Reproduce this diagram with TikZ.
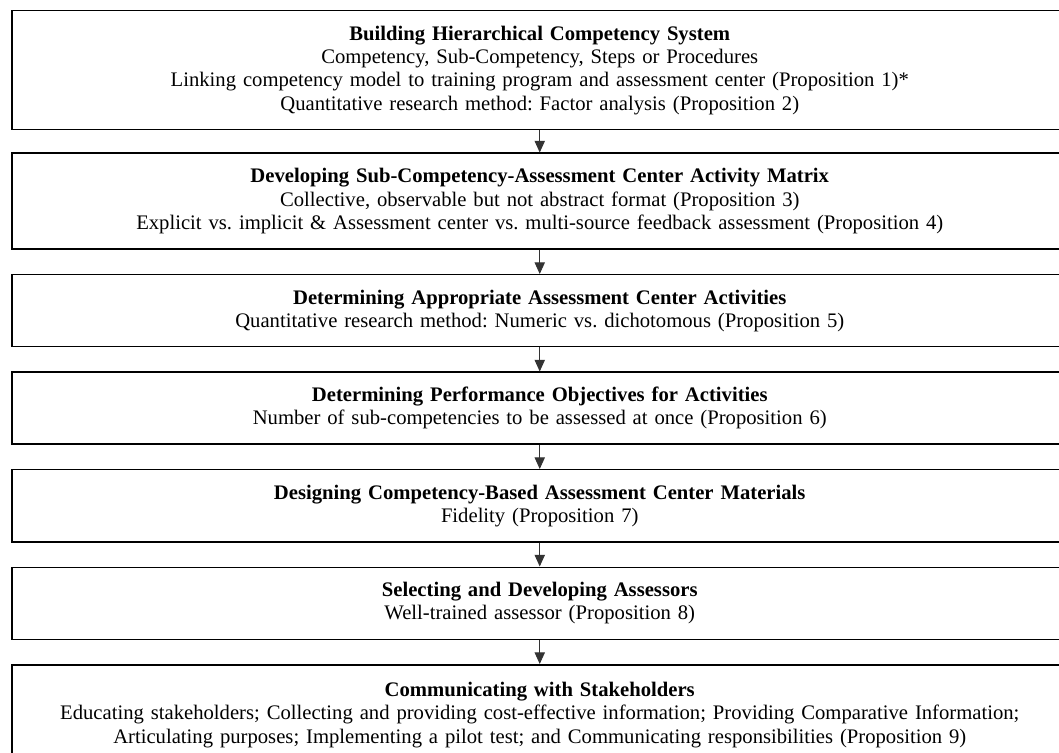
\documentclass[tikz,border=0pt]{standalone}
\usepackage{fontspec}
\setmainfont{Liberation Serif}
\usetikzlibrary{arrows.meta,positioning}
\frenchspacing

\begin{document}
\begin{tikzpicture}[node distance=14.4pt,
    stepbox/.style={draw,line width=0.9pt,text width=625.6pt,inner xsep=4pt,inner ysep=2pt,
      align=center,font=\fontsize{12.4pt}{14pt}\selectfont},
    flow/.style={draw=black!80,line width=0.6pt,-{Triangle[length=7pt,width=6.2pt]}}]
  \useasboundingbox (0,0) rectangle (635.4pt,-451.8pt);
  \node[stepbox,minimum height=71.4pt,anchor=north west] (hier) at (6.6pt,-6pt)
    {\textbf{Building Hierarchical Competency System}\\
     Competency, Sub-Competency, Steps or Procedures\\
     Linking competency model to training program and assessment center (Proposition 1)*\\
     Quantitative research method: Factor analysis (Proposition 2)};
  \node[stepbox,minimum height=57.6pt,below=13.2pt of hier] (acmatrix)
    {\textbf{Developing Sub-Competency-Assessment Center Activity Matrix}\\
     Collective, observable but not abstract format (Proposition 3)\\
     Explicit vs. implicit \& Assessment center vs. multi-source feedback assessment (Proposition 4)};
  \node[stepbox,minimum height=43.2pt,below=of acmatrix] (activities)
    {\textbf{Determining Appropriate Assessment Center Activities}\\
     Quantitative research method: Numeric vs. dichotomous (Proposition 5)};
  \node[stepbox,minimum height=43.2pt,below=of activities] (objectives)
    {\textbf{Determining Performance Objectives for Activities}\\
     Number of sub-competencies to be assessed at once (Proposition 6)};
  \node[stepbox,minimum height=43.2pt,below=of objectives] (materials)
    {\textbf{Designing Competency-Based Assessment Center Materials}\\
     Fidelity (Proposition 7)};
  \node[stepbox,minimum height=43.2pt,below=of materials] (assessors)
    {\textbf{Selecting and Developing Assessors}\\
     Well-trained assessor (Proposition 8)};
  \node[stepbox,minimum height=60pt,below=of assessors] (stakeholders)
    {\textbf{Communicating with Stakeholders}\\
     Educating stakeholders; Collecting and providing cost-effective information; Providing Comparative Information;\\
     Articulating purposes; Implementing a pilot test; and Communicating responsibilities (Proposition 9)};

  \foreach \a/\b in {hier/acmatrix,acmatrix/activities,activities/objectives,
      objectives/materials,materials/assessors,assessors/stakeholders}
    \draw[flow] (\a.south) -- (\b.north);
\end{tikzpicture}
\end{document}
